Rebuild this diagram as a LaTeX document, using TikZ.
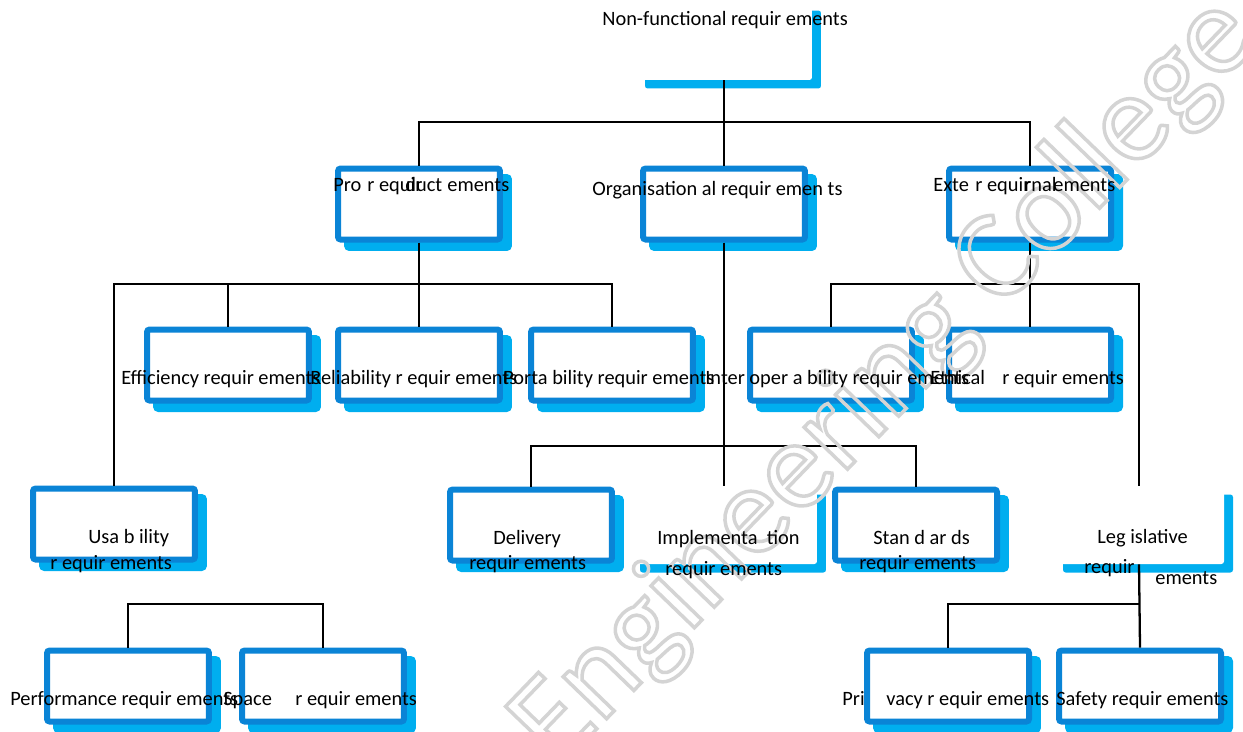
\documentclass[tikz,border=0pt]{standalone}
\usepackage{fontspec}
\setmainfont{Carlito}
\usetikzlibrary{shadows}
\definecolor{boxblue}{HTML}{0A84D6}
\definecolor{shadowblue}{HTML}{00AEEF}
\definecolor{markgray}{HTML}{D4D4D4}

\begin{document}
\begin{tikzpicture}[x=0.02cm, y=-0.02cm]
    \tikzstyle{box}=[rectangle, rounded corners=1.5pt, draw=boxblue, line width=0.12cm, fill=white,
        minimum width=3.24cm, minimum height=1.42cm, inner sep=0pt,
        general shadow={fill=shadowblue, draw=shadowblue, shadow xshift=0.18cm, shadow yshift=-0.17cm}]
    \tikzstyle{ghost box}=[rectangle, rounded corners=1.5pt, draw=none, fill=white,
        minimum height=1.56cm, inner sep=0pt,
        general shadow={fill=shadowblue, shadow xshift=0.18cm, shadow yshift=-0.17cm}]
    \tikzstyle{lbl}=[anchor=base west, inner sep=0pt, font=\fontsize{11.6}{14}\selectfont]
    \tikzstyle{conn}=[draw=black, line width=1.3pt]

    \useasboundingbox (0,0) rectangle (1243,731);
    \clip (0,0) rectangle (1243,731);

    % Boxes, top to bottom
    \node[ghost box, minimum width=3.52cm] (root) at (724,41) {};
    \node[box] (prod) at (419,204) {};
    \node[box] (org) at (724,204) {};
    \node[box] (ext) at (1030,204) {};
    \node[box] (eff) at (228,365) {};
    \node[box] (rel) at (419,365) {};
    \node[box] (port) at (612,365) {};
    \node[box] (inter) at (831,365) {};
    \node[box] (eth) at (1030,365) {};
    \node[box] (usab) at (114,524) {};
    \node[box] (deliv) at (531,525) {};
    \node[ghost box, minimum width=3.72cm] (impl) at (724,525) {};
    \node[box] (stand) at (916,525) {};
    \node[ghost box, minimum width=3.4cm] (legis) at (1139,525) {};
    \node[box] (perf) at (128,686) {};
    \node[box] (space) at (323,686) {};
    \node[box] (priv) at (948,686) {};
    \node[box] (safe) at (1140,686) {};

    % Connectors
    \draw[conn] (root.south) -- (org.north);
    \draw[conn] (prod.north) |- (ext.north |- 0,122) -- (ext.north);
    \draw[conn] (prod.south) -- (rel.north);
    \draw[conn] (usab.north) |- (port.north |- 0,284) -- (port.north);
    \draw[conn] (eff.north) -- (eff.north |- 0,284);
    \draw[conn] (org.south) -- (impl.north);
    \draw[conn] (deliv.north) |- (stand.north |- 0,446) -- (stand.north);
    \draw[conn] (ext.south) -- (eth.north);
    \draw[conn] (inter.north) |- (legis.north |- 0,284) -- (legis.north);
    \draw[conn] (legis.south) -- (safe.north);
    \draw[conn] (priv.north) |- (safe.north |- 0,604);
    \draw[conn] (perf.north) |- (space.north |- 0,604) -- (space.north);

    % Watermark, outlined letters
    \node[rotate=46, anchor=base east, inner sep=0pt, text=markgray,
        font=\fontsize{72}{80}\selectfont] (mark) at (1262,40)
        {\special{pdf:code q 1 Tr 2 w}Engineering College\special{pdf:code Q}};

    % Labels as printed
    \node[lbl] (t-root) at (602,25) {Non-functional requir ements};
    \node[lbl] (t-prod-a) at (333,191) {Pro};
    \node[lbl] (t-prod-b) at (367,191) {r equir};
    \node[lbl] (t-prod-c) at (405,191) {duct};
    \node[lbl] (t-prod-d) at (447,191) {ements};
    \node[lbl] (t-org) at (592,195) {Organisation al requir emen ts};
    \node[lbl] (t-ext-a) at (933,191) {Exte};
    \node[lbl] (t-ext-b) at (975,191) {r equir};
    \node[lbl] (t-ext-c) at (1024,191) {rnal};
    \node[lbl] (t-ext-d) at (1053,191) {ements};
    \node[lbl] (t-eff) at (121,384) {Efficiency requir ements};
    \node[lbl] (t-rel) at (310,384) {Reliability r equir ements};
    \node[lbl] (t-port) at (503,384) {Porta bility requir ements};
    \node[lbl] (t-inter) at (705,384) {Inter oper a bility requir ements};
    \node[lbl] (t-eth-a) at (930,384) {Ethical};
    \node[lbl] (t-eth-b) at (1002,384) {r equir ements};
    \node[lbl] (t-usab-a) at (88,543) {Usa b ility};
    \node[lbl] (t-usab-b) at (50,569) {r equir ements};
    \node[lbl] (t-deliv-a) at (493,544) {Delivery};
    \node[lbl] (t-deliv-b) at (469,569) {requir ements};
    \node[lbl] (t-impl-a) at (657,544) {Implementa\ \ tion};
    \node[lbl] (t-impl-b) at (665,575) {requir ements};
    \node[lbl] (t-stand-a) at (873,544) {Stan d ar ds};
    \node[lbl] (t-stand-b) at (859,569) {requir ements};
    \node[lbl] (t-legis-a) at (1097,543) {Leg islative};
    \node[lbl] (t-legis-b) at (1084,573) {requir};
    \node[lbl] (t-legis-c) at (1155,584) {ements};
    \node[lbl] (t-perf) at (10,705) {Performance requir ements};
    \node[lbl] (t-space-a) at (223,705) {Space};
    \node[lbl] (t-space-b) at (295,705) {r equir ements};
    \node[lbl] (t-priv-a) at (842,705) {Pri};
    \node[lbl] (t-priv-b) at (886,705) {vacy r equir ements};
    \node[lbl] (t-safe) at (1056,705) {Safety requir ements};
\end{tikzpicture}
\end{document}
